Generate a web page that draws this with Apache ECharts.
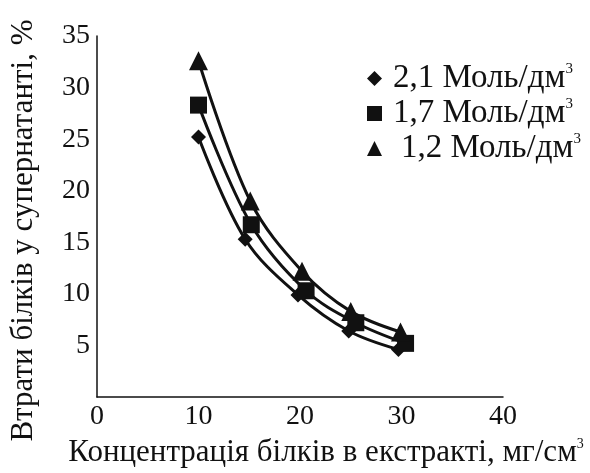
<!DOCTYPE html>
<html>
<head>
<meta charset="utf-8">
<script src="https://cdn.jsdelivr.net/npm/echarts@6/dist/echarts.min.js"></script>
<style>html,body{margin:0;padding:0;background:#fff}#c{width:590px;height:473px}</style>
</head>
<body>
<div id="c"></div>
<script>
const seriesNames = ['2,1 Моль/дм³', '1,7 Моль/дм³', '1,2 Моль/дм³'];
const seriesSymbols = ['diamond', 'rect', 'triangle'];
const s21 = [[10, 25.2], [14.6, 15.3], [19.8, 9.9], [24.8, 6.4], [29.7, 4.6]];
const s17 = [[10, 28.3], [15.2, 16.7], [20.6, 10.3], [25.5, 7.2], [30.4, 5.2]];
const s12 = [[10, 32.6], [15.1, 19.0], [20.2, 12.2], [25.0, 8.3], [29.9, 6.3]];
const xTicks = [0, 10, 20, 30, 40];
const yTicks = [0, 5, 10, 15, 20, 25, 30, 35];
const xTitle = 'Концентрація білків в екстракті, мг/см³';
const yTitle = 'Втрати білків у супернатанті, %';

const allData = [s21, s17, s12];
const font = '"Liberation Serif", "Times New Roman", serif';
const symSizes = [15, 17, 19];
const ink = '#111';

function supRich(text, key) {
  const i = text.indexOf('³');
  if (i < 0) return '{' + key + '|' + text + '}';
  return '{' + key + '|' + text.slice(0, i) + '}{s|3}' + (text.slice(i + 1) ? '{' + key + '|' + text.slice(i + 1) + '}' : '');
}

const chart = echarts.init(document.getElementById('c'), null, {renderer: 'canvas'});
chart.setOption({
  animation: false,
  backgroundColor: '#fff',
  grid: {left: 95, right: 87, top: 36, bottom: 76},
  legend: {
    orient: 'vertical',
    left: 362, top: 57,
    itemGap: 2,
    itemWidth: 15, itemHeight: 15,
    formatter: function (name) {
      return supRich(name, seriesNames.indexOf(name) === 2 ? 'b' : 'a');
    },
    textStyle: {
      fontFamily: font, fontSize: 33, color: ink,
      rich: {
        a: {fontFamily: font, fontSize: 33, color: ink, padding: [0, 0, 0, 6]},
        b: {fontFamily: font, fontSize: 33, color: ink, padding: [0, 0, 0, 14]},
        s: {fontFamily: font, fontSize: 15, color: ink, verticalAlign: 'top', lineHeight: 15}
      }
    },
    data: seriesNames.map((n, i) => ({name: n, icon: seriesSymbols[i]}))
  },
  xAxis: {
    type: 'value', min: xTicks[0], max: xTicks[xTicks.length - 1], interval: 10,
    splitLine: {show: false},
    axisTick: {show: false},
    axisLine: {onZero: false, lineStyle: {color: ink, width: 1.5}},
    axisLabel: {fontFamily: font, fontSize: 28, color: ink, margin: 6},
    name: supRich(xTitle, 'a'), nameLocation: 'middle', nameGap: 40,
    nameTextStyle: {
      fontFamily: font, fontSize: 31, color: ink, padding: [0, 0, 0, 52],
      rich: {
        a: {fontFamily: font, fontSize: 31, color: ink},
        s: {fontFamily: font, fontSize: 14, color: ink, verticalAlign: 'top', lineHeight: 14}
      }
    }
  },
  yAxis: {
    type: 'value', min: yTicks[0], max: yTicks[yTicks.length - 1], interval: 5,
    splitLine: {show: false},
    axisTick: {show: false},
    axisLine: {onZero: false, lineStyle: {color: ink, width: 1.5}},
    axisLabel: {fontFamily: font, fontSize: 28, color: ink, margin: 7, showMinLabel: false},
    name: yTitle, nameLocation: 'middle', nameGap: 58,
    nameTextStyle: {fontFamily: font, fontSize: 31, color: ink, padding: [0, 28, 0, 0]}
  },
  series: allData.map((d, i) => ({
    name: seriesNames[i],
    type: 'line',
    data: d,
    smooth: 0.35,
    symbol: seriesSymbols[i],
    symbolSize: symSizes[i],
    itemStyle: {color: ink},
    lineStyle: {color: ink, width: 3}
  }))
});
</script>
</body>
</html>
